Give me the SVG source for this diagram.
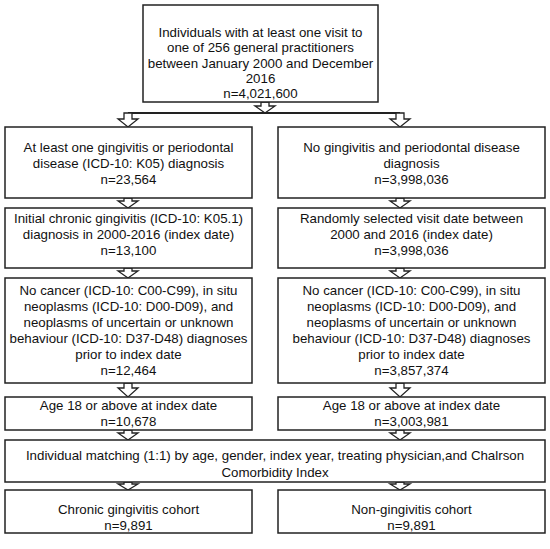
<svg xmlns="http://www.w3.org/2000/svg" width="550" height="549" viewBox="0 0 550 549">
<style>
.box{fill:#fff;stroke:#222;stroke-width:1.5}
.arr{fill:#fff;stroke:#222;stroke-width:1.3;stroke-linejoin:miter}
.ln{stroke:#222;stroke-width:2;fill:none}
text{font-family:"Liberation Sans",Arial,sans-serif;font-size:13.3px;fill:#111;text-anchor:middle}
</style>
<rect width="550" height="549" fill="#fff"/>
<g id="connectors">
<path class="arr" d="M261,102 H269 V106 H275 L265,113 L255,106 H261 Z"/>
<line class="ln" x1="128" y1="113" x2="400" y2="113"/>
<path class="arr" d="M124,113 H132 V119 H138 L128,127 L118,119 H124 Z"/>
<path class="arr" d="M396,113 H404 V119 H410 L400,127 L390,119 H396 Z"/>
<path class="arr" d="M124,198 H132 V201 H138 L128,208 L118,201 H124 Z"/>
<path class="arr" d="M396,198 H404 V201 H410 L400,208 L390,201 H396 Z"/>
<path class="arr" d="M124,268 H132 V271 H138 L128,278 L118,271 H124 Z"/>
<path class="arr" d="M396,268 H404 V271 H410 L400,278 L390,271 H396 Z"/>
<path class="arr" d="M124,383 H132 V388 H138 L128,397 L118,388 H124 Z"/>
<path class="arr" d="M396,383 H404 V388 H410 L400,397 L390,388 H396 Z"/>
<path class="arr" d="M124,430 H132 V433 H138 L128,440 L118,433 H124 Z"/>
<path class="arr" d="M396,430 H404 V433 H410 L400,440 L390,433 H396 Z"/>
<path class="arr" d="M124,482 H132 V484 H138 L128,490 L118,484 H124 Z"/>
<path class="arr" d="M396,482 H404 V484 H410 L400,490 L390,484 H396 Z"/>
</g>
<g id="top">
<rect class="box" x="143" y="5" width="235" height="97"/>
<text x="260.5" y="37">Individuals with at least one visit to</text>
<text x="260.5" y="52">one of 256 general practitioners</text>
<text x="260.5" y="68">between January 2000 and December</text>
<text x="260.5" y="83">2016</text>
<text x="260.5" y="98">n=4,021,600</text>
</g>
<g id="l1">
<rect class="box" x="5" y="127" width="247" height="71"/>
<text x="128.5" y="152">At least one gingivitis or periodontal</text>
<text x="128.5" y="168">disease (ICD-10: K05) diagnosis</text>
<text x="128.5" y="184">n=23,564</text>
</g>
<g id="r1">
<rect class="box" x="278" y="127" width="267" height="71"/>
<text x="411.5" y="152">No gingivitis and periodontal disease</text>
<text x="411.5" y="168">diagnosis</text>
<text x="411.5" y="184">n=3,998,036</text>
</g>
<g id="l2">
<rect class="box" x="5" y="208" width="247" height="60"/>
<text x="128.5" y="223">Initial chronic gingivitis (ICD-10: K05.1)</text>
<text x="128.5" y="239">diagnosis in 2000-2016 (index date)</text>
<text x="128.5" y="255">n=13,100</text>
</g>
<g id="r2">
<rect class="box" x="278" y="208" width="267" height="60"/>
<text x="411.5" y="223">Randomly selected visit date between</text>
<text x="411.5" y="239">2000 and 2016 (index date)</text>
<text x="411.5" y="255">n=3,998,036</text>
</g>
<g id="l3">
<rect class="box" x="5" y="278" width="247" height="105"/>
<text x="128.5" y="295">No cancer (ICD-10: C00-C99),  in situ</text>
<text x="128.5" y="311">neoplasms (ICD-10: D00-D09), and</text>
<text x="128.5" y="327">neoplasms of uncertain or unknown</text>
<text x="128.5" y="343">behaviour (ICD-10: D37-D48) diagnoses</text>
<text x="128.5" y="359">prior to index date</text>
<text x="128.5" y="375">n=12,464</text>
</g>
<g id="r3">
<rect class="box" x="278" y="278" width="267" height="105"/>
<text x="411.5" y="295">No cancer (ICD-10: C00-C99),  in situ</text>
<text x="411.5" y="311">neoplasms (ICD-10: D00-D09), and</text>
<text x="411.5" y="327">neoplasms of uncertain or unknown</text>
<text x="411.5" y="343">behaviour (ICD-10: D37-D48) diagnoses</text>
<text x="411.5" y="359">prior to index date</text>
<text x="411.5" y="375">n=3,857,374</text>
</g>
<g id="l4">
<rect class="box" x="5" y="397" width="247" height="33"/>
<text x="128.5" y="410">Age 18 or above at index date</text>
<text x="128.5" y="426">n=10,678</text>
</g>
<g id="r4">
<rect class="box" x="278" y="397" width="267" height="33"/>
<text x="411.5" y="410">Age 18 or above at index date</text>
<text x="411.5" y="426">n=3,003,981</text>
</g>
<g id="match">
<rect class="box" x="5" y="440" width="540" height="42"/>
<text x="275" y="460">Individual matching (1:1) by age, gender, index year, treating physician,and Chalrson</text>
<text x="275" y="477">Comorbidity Index</text>
</g>
<g id="l5">
<rect class="box" x="5" y="490" width="247" height="43"/>
<text x="128.5" y="514">Chronic gingivitis cohort</text>
<text x="128.5" y="530">n=9,891</text>
</g>
<g id="r5">
<rect class="box" x="278" y="490" width="267" height="43"/>
<text x="411.5" y="514">Non-gingivitis cohort</text>
<text x="411.5" y="530">n=9,891</text>
</g>
</svg>
